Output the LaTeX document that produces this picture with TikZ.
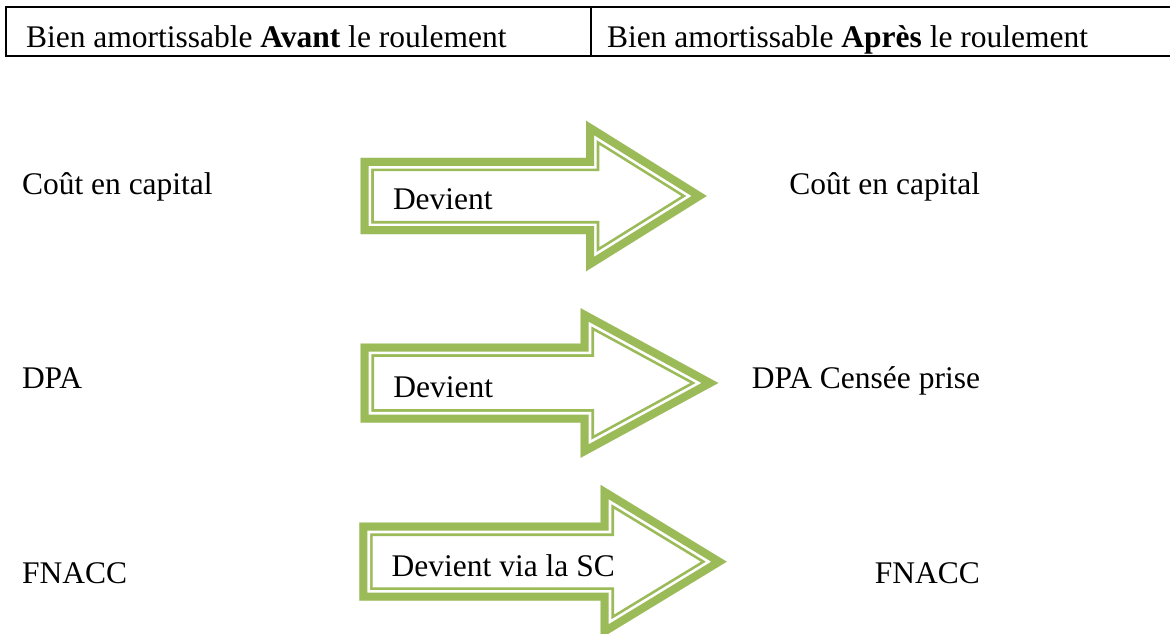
\documentclass[tikz,border=0pt]{standalone}
\usepackage{fontspec}
\setmainfont{Liberation Serif}
\definecolor{arrowgreen}{HTML}{9BBB59}

% Hollow block arrow with a thick-thin green outline.
% #1 shaft left x, #2 head base x, #3 tip x, #4 centre y,
% #5 half height of the shaft, #6 half height of the head
\newcommand\greenarrow[6]{%
  \begin{scope}
    \clip (#1,#4-#5) -- (#2,#4-#5) -- (#2,#4-#6) -- (#3,#4) --
          (#2,#4+#6) -- (#2,#4+#5) -- (#1,#4+#5) -- cycle;
    \foreach \w/\c in {26.8/arrowgreen,21.4/white,16/arrowgreen}
      \draw[line width=\w pt,\c,line join=miter,miter limit=10]
        (#1,#4-#5) -- (#2,#4-#5) -- (#2,#4-#6) -- (#3,#4) --
        (#2,#4+#6) -- (#2,#4+#5) -- (#1,#4+#5) -- cycle;
  \end{scope}}

\tikzset{
  txt/.style={font=\fontsize{31.5}{36}\selectfont, inner sep=0pt, outer sep=0pt},
  rule/.style={line width=2.3pt, line cap=rect}
}

\begin{document}
\begin{tikzpicture}[x=1pt,y=-1pt]
  \useasboundingbox[fill=white] (0,0) rectangle (1170,634);

  % header table
  \draw[rule] (6,7) -- (1170,7);
  \draw[rule] (6,56) -- (1170,56);
  \draw[line width=2pt] (6,7) -- (6,56);
  \draw[line width=1.4pt] (591,7) -- (591,56);
  \node[txt, anchor=base west] (hleft) at (26,47.5)
    {Bien amortissable \textbf{Avant} le roulement};
  \node[txt, anchor=base west] (hright) at (607,47.5)
    {Bien amortissable \textbf{Après} le roulement};

  % arrows
  \greenarrow{360.5}{586}{706.7}{196}{38.2}{75.3}
  \greenarrow{360.7}{580.7}{718.3}{383}{39.5}{74.7}
  \greenarrow{359.3}{600.7}{726.7}{561.7}{39}{76.7}

  \node[txt, anchor=base west] (lbl1) at (393,209.3) {Devient};
  \node[txt, anchor=base west] (lbl2) at (393.3,397.7) {Devient};
  \node[txt, anchor=base west] (lbl3) at (391.7,576.7) {Devient via la SC};

  % left column
  \node[txt, anchor=base west] (l1) at (22,194) {Coût en capital};
  \node[txt, anchor=base west] (l2) at (22,388) {DPA};
  \node[txt, anchor=base west] (l3) at (22,583) {FNACC};

  % right column
  \node[txt, anchor=base east] (r1) at (980,194) {Coût en capital};
  \node[txt, anchor=base east] (r2) at (980,388) {DPA Censée prise};
  \node[txt, anchor=base east] (r3) at (980,583) {FNACC};
\end{tikzpicture}
\end{document}
